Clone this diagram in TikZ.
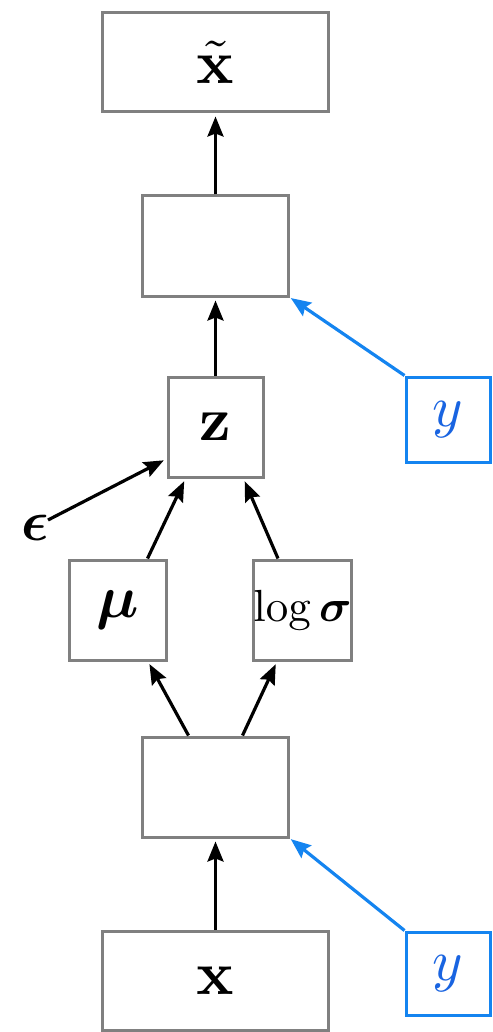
\documentclass[tikz,border=0pt]{standalone}
\usepackage{amsmath,bm,graphicx}
\usetikzlibrary{arrows.meta,calc}
\definecolor{boxgray}{RGB}{128,128,128}
\definecolor{ablue}{RGB}{20,132,240}
\definecolor{ytext}{RGB}{25,100,225}
\begin{document}
\begin{tikzpicture}[x=1pt,y=-1pt,
  box/.style={draw=boxgray,line width=3pt,inner sep=0pt,fill=white},
  ybox/.style={draw=ablue,line width=3pt,inner sep=0pt,fill=white,text=ytext,minimum width=84pt},
  arr/.style={line width=3.2pt,-{Stealth[length=20pt,width=16pt,inset=3pt]},shorten >=3pt},
  barr/.style={arr,draw=ablue,shorten >=1pt}
]
\useasboundingbox (0,0) rectangle (492,1032);
\node[box,minimum width=226pt,minimum height=99pt] (xt) at (215.5,62.5) {\scalebox{6.2}{$\tilde{\mathbf{x}}$}};
\node[box,minimum width=146pt,minimum height=100pt] (h2) at (215.5,246) {};
\node[box,minimum width=95pt,minimum height=100pt] (z) at (215.5,427) {\scalebox{6.2}{$\mathbf{z}$}};
\node[ybox,minimum height=85pt] (y1) at (448,419.5) {\scalebox{5.8}{$y$}};
\node (eps) at (35,528) {\scalebox{5.7}{$\bm{\epsilon}$}};
\node[box,minimum width=97pt,minimum height=100pt] (mu) at (117.5,610) {\scalebox{6}{$\bm{\mu}$}};
\node[box,minimum width=97pt,minimum height=100pt] (ls) at (302.5,610) {\scalebox{4.5}{$\log\bm{\sigma}$}};
\node[box,minimum width=146pt,minimum height=100pt] (h1) at (215.5,787) {};
\node[box,minimum width=226pt,minimum height=99pt] (x) at (215.5,980.5) {\scalebox{6.2}{$\mathbf{x}$}};
\node[ybox,minimum height=83pt] (y2) at (448,973.5) {\scalebox{5.8}{$y$}};

\coordinate (ze) at ($(z.south west)!0.19!(z.north west)$);
\coordinate (es) at (48,520);
\draw[arr] (h2.north) -- (xt.south);
\draw[arr] (z.north) -- (h2.south);
\draw[arr] (x.north) -- (h1.south);
\draw[arr] ([xshift=30pt]mu.north) -- ([xshift=-30pt]z.south);
\draw[arr] ([xshift=-24.5pt]ls.north) -- ([xshift=28pt]z.south);
\draw[arr] ([xshift=-27pt]h1.north) -- ([xshift=30.5pt]mu.south);
\draw[arr] ([xshift=27pt]h1.north) -- ([xshift=-25.5pt]ls.south);
\draw[arr] (es) -- (ze);
\draw[barr] (y1.north west) -- (h2.south east);
\draw[barr] (y2.north west) -- (h1.south east);
\end{tikzpicture}
\end{document}
